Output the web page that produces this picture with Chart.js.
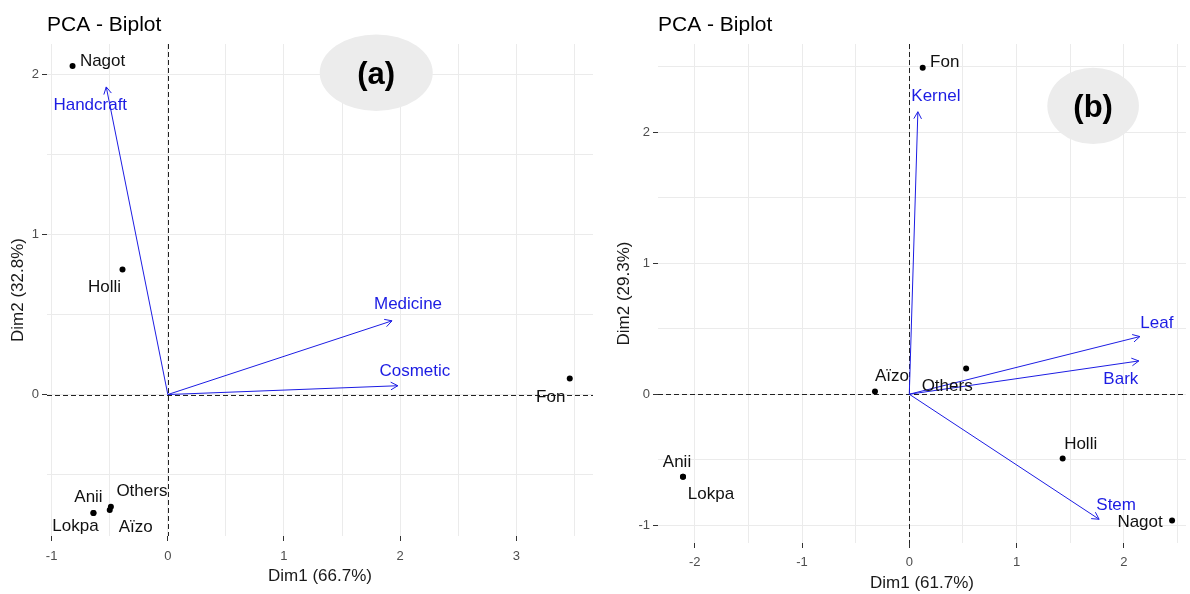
<!DOCTYPE html>
<html>
<head>
<meta charset="utf-8">
<script src="https://cdn.jsdelivr.net/npm/chart.js@4.4.1/dist/chart.umd.min.js"></script>
<style>
html, body { margin: 0; padding: 0; background: #fff; }
#wrap { position: relative; width: 1190px; height: 594px; overflow: hidden; }
#chartA { position: absolute; left: 0; top: 0; }
#chartB { position: absolute; left: 600px; top: 0; }
</style>
</head>
<body>
<div id="wrap">
  <canvas id="chartA" width="600" height="594"></canvas>
  <canvas id="chartB" width="590" height="594"></canvas>
</div>
<script>
// (a) uses
var indNamesA = ['Nagot', 'Holli', 'Fon', 'Others', 'Aïzo', 'Anii', 'Lokpa'];
var indDim1A  = [-0.82, -0.39, 3.46, -0.49, -0.50, -0.64, -0.64];
var indDim2A  = [2.05, 0.78, 0.10, -0.70, -0.72, -0.74, -0.74];
var varNamesA = ['Handcraft', 'Medicine', 'Cosmetic'];
var varDim1A  = [-0.53, 1.93, 1.98];
var varDim2A  = [1.92, 0.46, 0.055];

// (b) organs
var indNamesB = ['Fon', 'Aïzo', 'Others', 'Holli', 'Anii', 'Lokpa', 'Nagot'];
var indDim1B  = [0.125, -0.32, 0.53, 1.43, -2.11, -2.11, 2.45];
var indDim2B  = [2.49, 0.02, 0.196, -0.49, -0.63, -0.63, -0.964];
var varNamesB = ['Kernel', 'Leaf', 'Bark', 'Stem'];
var varDim1B  = [0.08, 2.15, 2.14, 1.77];
var varDim2B  = [2.155, 0.44, 0.254, -0.954];

// label offsets in pixels (style only)
var indOffA = [[30, -5], [-18, 18], [-19, 19], [31, -15], [26, 17], [-5, -16], [-18, 13]];
var varOffA = [[-16, 18], [16, -17], [17, -14]];
var indOffB = [[22, -6], [17, -15], [-19, 18], [18, -14], [-6, -14], [28, 18], [-32, 2]];
var varOffB = [[18, -15], [17, -13], [-18, 18], [17, -14]];

var FONT = '"Liberation Sans", Arial, sans-serif';
var BLUE = '#1c1ce3';

function gridTicks(min, max) {
    var t = [];
    for (var v = Math.ceil(min * 2) / 2; v <= max + 1e-9; v += 0.5) {
        t.push({ value: Math.round(v * 2) / 2 });
    }
    return t;
}

var biplotPlugin = {
    id: 'biplot',
    beforeDatasetsDraw: function (chart, args, o) {
        var ctx = chart.ctx, a = chart.chartArea, x = chart.scales.x, y = chart.scales.y;
        ctx.save();
        // badge (a)/(b)
        var bx = x.getPixelForValue(o.badgeX), by = y.getPixelForValue(o.badgeY);
        ctx.fillStyle = '#ececec';
        ctx.beginPath();
        ctx.ellipse(bx, by, o.badgeRx, o.badgeRy, 0, 0, Math.PI * 2);
        ctx.fill();
        ctx.fillStyle = '#000';
        ctx.font = 'bold 31px ' + FONT;
        ctx.textAlign = 'center';
        ctx.textBaseline = 'middle';
        ctx.fillText(o.badge, bx, by + 3);
        // dashed zero lines
        var x0 = Math.round(x.getPixelForValue(0)) + 0.5;
        var y0 = Math.round(y.getPixelForValue(0)) + 0.5;
        ctx.strokeStyle = '#222';
        ctx.lineWidth = 1;
        ctx.setLineDash([5, 3]);
        ctx.beginPath();
        ctx.moveTo(a.left, y0); ctx.lineTo(a.right, y0);
        ctx.moveTo(x0, a.top); ctx.lineTo(x0, a.bottom);
        ctx.stroke();
        ctx.restore();
    },
    afterDatasetsDraw: function (chart, args, o) {
        var ctx = chart.ctx;
        ctx.save();
        ctx.font = '17px ' + FONT;
        ctx.textAlign = 'center';
        ctx.textBaseline = 'middle';
        // arrows: heads + labels
        for (var i = 0; i < o.varNames.length; i++) {
            var meta = chart.getDatasetMeta(i + 1);
            var p0 = meta.data[0], p1 = meta.data[1];
            var ang = Math.atan2(p1.y - p0.y, p1.x - p0.x);
            ctx.strokeStyle = BLUE;
            ctx.lineWidth = 1;
            ctx.beginPath();
            ctx.moveTo(p1.x - 8 * Math.cos(ang - 0.5), p1.y - 8 * Math.sin(ang - 0.5));
            ctx.lineTo(p1.x, p1.y);
            ctx.lineTo(p1.x - 8 * Math.cos(ang + 0.5), p1.y - 8 * Math.sin(ang + 0.5));
            ctx.stroke();
            ctx.fillStyle = BLUE;
            ctx.fillText(o.varNames[i], p1.x + o.varOff[i][0], p1.y + o.varOff[i][1]);
        }
        // individuals labels
        var pm = chart.getDatasetMeta(0);
        ctx.fillStyle = '#111';
        for (var j = 0; j < o.indNames.length; j++) {
            var p = pm.data[j];
            ctx.fillText(o.indNames[j], p.x + o.indOff[j][0], p.y + o.indOff[j][1]);
        }
        ctx.restore();
    },
    afterDraw: function (chart, args, o) {
        var ctx = chart.ctx;
        ctx.save();
        ctx.fillStyle = '#000';
        ctx.font = '21px ' + FONT;
        ctx.textAlign = 'left';
        ctx.textBaseline = 'alphabetic';
        ctx.fillText('PCA - Biplot', chart.chartArea.left, 31);
        ctx.restore();
    }
};

function axis(min, max, title, size, tickPad, titlePad) {
    return {
        type: 'linear',
        min: min,
        max: max,
        afterBuildTicks: function (s) { s.ticks = gridTicks(min, max); },
        afterFit: function (s) {
            if (s.isHorizontal()) s.height = size; else s.width = size;
        },
        border: { display: false },
        grid: {
            color: '#ebebeb',
            lineWidth: 1,
            drawTicks: true,
            tickLength: 5,
            tickColor: function (c) {
                return Number.isInteger(c.tick.value) ? '#333' : 'rgba(0,0,0,0)';
            }
        },
        ticks: {
            autoSkip: false,
            maxRotation: 0,
            padding: tickPad,
            color: '#4d4d4d',
            font: { family: FONT, size: 13 },
            callback: function (v) { return Number.isInteger(v) ? String(v) : ''; }
        },
        title: {
            display: true,
            text: title,
            color: '#1a1a1a',
            font: { family: FONT, size: 17 },
            padding: titlePad
        }
    };
}

function makeBiplot(id, p) {
    var datasets = [{
        data: p.indX.map(function (v, k) { return { x: v, y: p.indY[k] }; }),
        pointRadius: 3,
        pointBackgroundColor: '#000',
        pointBorderWidth: 0,
        showLine: false,
        order: 0
    }];
    for (var i = 0; i < p.varX.length; i++) {
        datasets.push({
            data: [{ x: 0, y: 0 }, { x: p.varX[i], y: p.varY[i] }],
            showLine: true,
            borderColor: BLUE,
            borderWidth: 1,
            pointRadius: 0,
            pointHitRadius: 0,
            order: 1
        });
    }
    return new Chart(document.getElementById(id), {
        type: 'scatter',
        data: { datasets: datasets },
        options: {
            responsive: false,
            animation: false,
            devicePixelRatio: 1,
            layout: { padding: { top: 44, right: p.padRight, bottom: 0, left: 0 } },
            plugins: {
                legend: { display: false },
                tooltip: { enabled: false },
                biplot: {
                    badge: p.badge, badgeX: p.badgeX, badgeY: p.badgeY,
                    badgeRx: p.badgeRx, badgeRy: p.badgeRy,
                    indNames: p.indNames, indOff: p.indOff,
                    varNames: p.varNames, varOff: p.varOff
                }
            },
            scales: {
                x: axis(p.xMin, p.xMax, p.xTitle, p.xH, p.xTickPad, { top: 0, bottom: p.xTitlePad }),
                y: axis(p.yMin, p.yMax, p.yTitle, p.yW, 3, { top: p.yTitlePad, bottom: 0 })
            }
        },
        plugins: [biplotPlugin]
    });
}

makeBiplot('chartA', {
    indX: indDim1A, indY: indDim2A, indNames: indNamesA, indOff: indOffA,
    varX: varDim1A, varY: varDim2A, varNames: varNamesA, varOff: varOffA,
    xMin: -1.04, xMax: 3.66, yMin: -0.883, yMax: 2.188,
    xTitle: 'Dim1 (66.7%)', yTitle: 'Dim2 (32.8%)',
    xH: 58, yW: 47, padRight: 7, xTickPad: 8, xTitlePad: 7, yTitlePad: 8,
    badge: '(a)', badgeX: 1.794, badgeY: 2.009, badgeRx: 56.5, badgeRy: 38.3
});

makeBiplot('chartB', {
    indX: indDim1B, indY: indDim2B, indNames: indNamesB, indOff: indOffB,
    varX: varDim1B, varY: varDim2B, varNames: varNamesB, varOff: varOffB,
    xMin: -2.343, xMax: 2.58, yMin: -1.135, yMax: 2.672,
    xTitle: 'Dim1 (61.7%)', yTitle: 'Dim2 (29.3%)',
    xH: 51, yW: 58, padRight: 0, xTickPad: 7, xTitlePad: 0, yTitlePad: 14,
    badge: '(b)', badgeX: 1.714, badgeY: 2.2, badgeRx: 45.8, badgeRy: 38.2
});
</script>
</body>
</html>
